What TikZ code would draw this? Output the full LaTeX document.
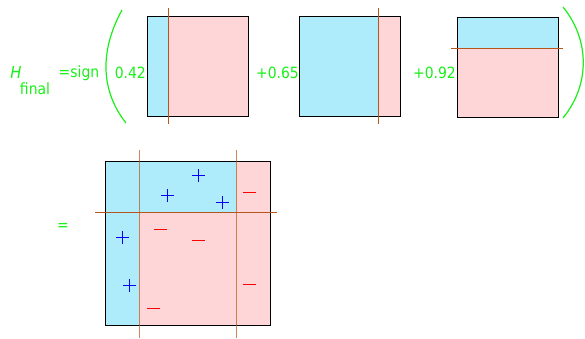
\documentclass[tikz,border=0pt]{standalone}
\usepackage{fontspec}
\setmainfont{DejaVu Sans Condensed}
\usepackage{tikz}
\usetikzlibrary{positioning,calc}
\definecolor{wlblue}{HTML}{AEECFB}
\definecolor{wlpink}{HTML}{FFD6D7}
\definecolor{wlgreen}{HTML}{19F019}
\definecolor{splitline}{HTML}{B5561E}

\begin{document}
\begin{tikzpicture}[x=1pt, y=-1pt,
    lbl/.style={text=wlgreen, inner sep=0pt, font=\fontsize{15.5}{17}\selectfont},
    box/.style={draw=black, line width=0.8pt},
    split/.style={draw=splitline, line width=1pt},
    paren/.style={draw=wlgreen, line width=1.2pt},
    pmark/.style={draw=blue, line width=1.3pt},
    mmark/.style={draw=red, line width=1.2pt}
]
    \useasboundingbox (0,0) rectangle (585,338);

    % left hand side
    \node[lbl, font=\fontsize{16.5}{18}\selectfont\itshape] (h) at (16,72) {H};
    \node[lbl] (final) at (35,89) {final};
    \node[lbl] (sign) at (79,73) {=sign};
    \draw[paren] (122,10) .. controls (100,50) and (100,90) .. (126,123);
    \draw[paren] (563,7) .. controls (590,40) and (590,85) .. (563,118);

    % weak learner 1
    \fill[wlblue] (147,16) rectangle (168,116);
    \fill[wlpink] (168,16) rectangle (248,116);
    \draw[box] (147,16) rectangle (248,116);
    \draw[split] (168,8) -- (168,124);
    \node[lbl, anchor=east] (a1) at (146,73) {0.42};

    % weak learner 2
    \fill[wlblue] (299,16) rectangle (378,116);
    \fill[wlpink] (378,16) rectangle (400,116);
    \draw[box] (299,16) rectangle (400,116);
    \draw[split] (378,8) -- (378,124);
    \node[lbl, anchor=east] (a2) at (299,73) {+0.65};

    % weak learner 3
    \fill[wlblue] (457,17) rectangle (558,48);
    \fill[wlpink] (457,48) rectangle (558,117);
    \draw[box] (457,17) rectangle (558,117);
    \draw[split] (451,48) -- (563,48);
    \node[lbl, anchor=east] (a3) at (456,73) {+0.92};

    % combined classifier
    \node[lbl] (eq) at (63,227) {=};
    \fill[wlblue] (105,161) rectangle (139,325);
    \fill[wlblue] (139,161) rectangle (236,212);
    \fill[wlpink] (236,161) rectangle (270,212);
    \fill[wlpink] (139,212) rectangle (270,325);
    \draw[box] (105,161) rectangle (270,325);
    \draw[split, opacity=0.7] (139,150) -- (139,338);
    \draw[split, opacity=0.7] (236,150) -- (236,338);
    \draw[split] (95,212) -- (277,212);

    % samples
    \foreach \px/\py in {198.5/175.5, 167.5/195.5, 222.5/202.5, 122.5/237.5, 129.5/285.5}
        \draw[pmark] (\px-6.5,\py) -- (\px+6.5,\py) (\px,\py-6.5) -- (\px,\py+6.5);
    \foreach \mx/\my in {249/192.5, 160/229.5, 198/240.5, 249/284.5, 153/308.5}
        \draw[mmark] (\mx-6.5,\my) -- (\mx+6.5,\my);
\end{tikzpicture}
\end{document}
